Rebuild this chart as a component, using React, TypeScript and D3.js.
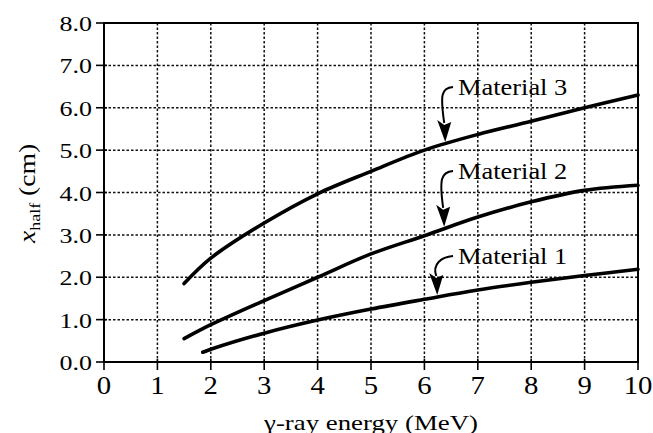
import React from "react";
import * as d3 from "d3";

// Half-value thickness vs gamma-ray energy for three shielding materials
const energyM1 = [1.85, 2, 3, 4, 5, 6, 7, 8, 9, 10];
const halfM1 = [0.23, 0.3, 0.68, 0.99, 1.25, 1.48, 1.7, 1.88, 2.04, 2.19];
const energyM2 = [1.5, 2, 3, 4, 5, 6, 7, 8, 9, 10];
const halfM2 = [0.55, 0.88, 1.45, 2.0, 2.55, 2.98, 3.42, 3.78, 4.05, 4.17];
const energyM3 = [1.5, 2, 3, 4, 5, 6, 7, 8, 9, 10];
const halfM3 = [1.85, 2.45, 3.28, 3.97, 4.5, 5.0, 5.37, 5.68, 6.0, 6.3];

const xTicks = [0, 1, 2, 3, 4, 5, 6, 7, 8, 9, 10];
const yTicks = [0, 1, 2, 3, 4, 5, 6, 7, 8];

// Callout labels: text anchor (data units) and the energy the arrow points to
const labelNames = ["Material 1", "Material 2", "Material 3"];
const labelX = [6.63, 6.63, 6.63];
const labelY = [2.31, 4.32, 6.3];
const arrowAt = [6.24, 6.37, 6.39];

const W = 653;
const H = 433;
const left = 104;
const right = 638;
const top = 23;
const bottom = 362;
const FONT = "'Liberation Serif', 'Times New Roman', serif";

function interp(xs: number[], ys: number[], x: number): number {
  for (let i = 0; i < xs.length - 1; i++) {
    if (x >= xs[i] && x <= xs[i + 1]) {
      const t = (x - xs[i]) / (xs[i + 1] - xs[i]);
      return ys[i] + t * (ys[i + 1] - ys[i]);
    }
  }
  return ys[ys.length - 1];
}

export default function App() {
  const x = d3.scaleLinear().domain([0, 10]).range([left, right]);
  const y = d3.scaleLinear().domain([0, 8]).range([bottom, top]);

  const line = d3
    .line<[number, number]>()
    .x((d) => x(d[0]))
    .y((d) => y(d[1]))
    .curve(d3.curveCatmullRom.alpha(0.5));

  const series = [
    { xs: energyM1, ys: halfM1 },
    { xs: energyM2, ys: halfM2 },
    { xs: energyM3, ys: halfM3 },
  ];

  return (
    <svg
      width={W}
      height={H}
      style={{ position: "absolute", left: 0, top: 0, background: "#fff" }}
    >
      <rect x={0} y={0} width={W} height={H} fill="#fff" />

      {/* dotted grid */}
      <g stroke="#111" strokeWidth={1.5} strokeDasharray="2.5,2">
        {xTicks.slice(1, -1).map((t) => (
          <line key={"gx" + t} x1={x(t)} x2={x(t)} y1={y(8)} y2={y(0)} />
        ))}
        {yTicks.slice(1, -1).map((t) => (
          <line key={"gy" + t} x1={x(0)} x2={x(10)} y1={y(t)} y2={y(t)} />
        ))}
      </g>

      {/* frame */}
      <rect
        x={x(0)}
        y={y(8)}
        width={x(10) - x(0)}
        height={y(0) - y(8)}
        fill="none"
        stroke="#000"
        strokeWidth={2}
      />

      {/* ticks */}
      <g stroke="#000" strokeWidth={1.6}>
        {yTicks.map((t) => (
          <line key={"ty" + t} x1={x(0) - 8} x2={x(0) + 3} y1={y(t)} y2={y(t)} />
        ))}
        {xTicks.map((t) => (
          <line key={"tx" + t} x1={x(t)} x2={x(t)} y1={y(0) - 3} y2={y(0) + 8} />
        ))}
      </g>

      {/* tick labels */}
      <g fontFamily={FONT} fill="#000">
        {yTicks.map((t) => (
          <text
            key={"ly" + t}
            transform={`translate(${x(0) - 12},${y(t) + 8}) scale(1.18,1)`}
            fontSize={22}
            textAnchor="end"
          >
            {t.toFixed(1)}
          </text>
        ))}
        {xTicks.map((t) => (
          <text
            key={"lx" + t}
            transform={`translate(${x(t)},${y(0) + 32}) scale(1.15,1)`}
            fontSize={25}
            textAnchor="middle"
          >
            {t}
          </text>
        ))}
      </g>

      {/* axis titles */}
      <text
        transform={`translate(${(x(0) + x(10)) / 2},${H - 3}) scale(1.22,1)`}
        fontFamily={FONT}
        fontSize={22}
        textAnchor="middle"
      >
        γ-ray energy (MeV)
      </text>
      <text
        transform={`translate(35,${(y(0) + y(8)) / 2 + 1}) rotate(-90) scale(1.2,1)`}
        fontFamily={FONT}
        fontSize={23}
        textAnchor="middle"
      >
        <tspan fontStyle="italic">x</tspan>
        <tspan fontSize={15} dy={5}>half</tspan>
        <tspan dy={-5}> (cm)</tspan>
      </text>

      {/* curves */}
      <g fill="none" stroke="#000" strokeWidth={3.6} strokeLinecap="round">
        {series.map((s, i) => (
          <path
            key={"c" + i}
            d={line(s.xs.map((v, j) => [v, s.ys[j]] as [number, number])) || ""}
          />
        ))}
      </g>

      {/* callouts */}
      {labelNames.map((name, i) => {
        const s = series[i];
        const tx = x(arrowAt[i]);
        const ty = y(interp(s.xs, s.ys, arrowAt[i])) - 2;
        const lx = x(labelX[i]);
        const ly = y(labelY[i]);
        const sx = lx - 5;
        const sy = ly - 8;
        const headLen = 21;
        const bx = tx - 1;
        const by = ty - headLen;
        const path = `M${sx},${sy} C${sx - 12},${sy + 1} ${bx - 4},${sy + 8} ${bx},${by + 2}`;
        return (
          <g key={"a" + i}>
            <path d={path} fill="none" stroke="#000" strokeWidth={2} />
            <polygon
              points={`${tx},${ty} ${bx - 7},${by - 1} ${bx},${by + 4} ${bx + 7},${by + 1}`}
              fill="#000"
            />
            <text
              transform={`translate(${lx},${ly}) scale(1.1,1)`}
              fontFamily={FONT}
              fontSize={24}
            >
              {name}
            </text>
          </g>
        );
      })}
    </svg>
  );
}
